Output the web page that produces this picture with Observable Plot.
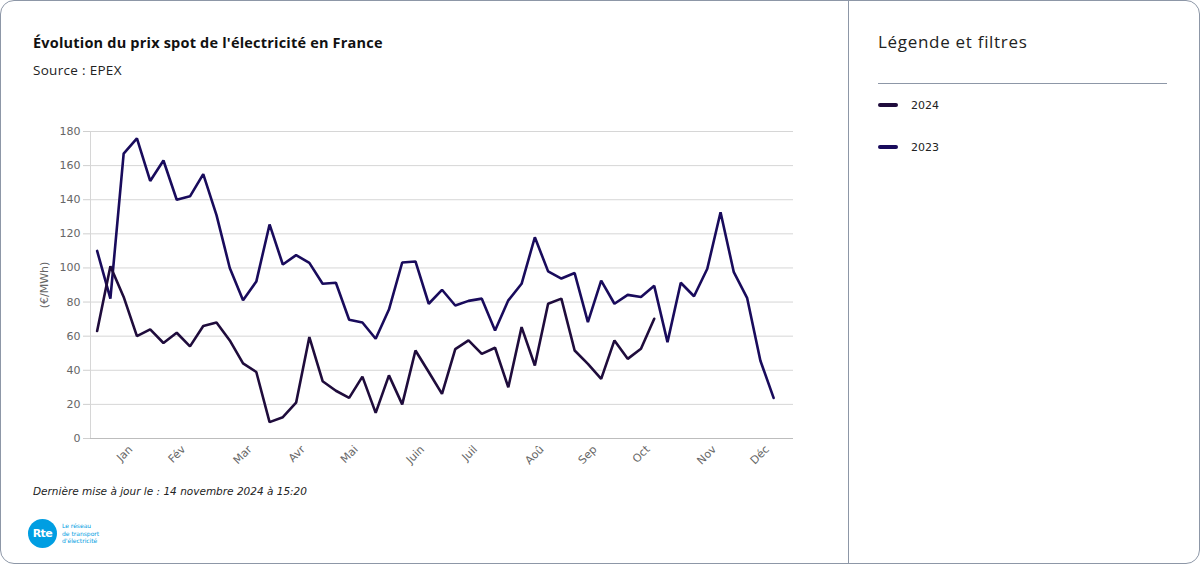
<!DOCTYPE html>
<html lang="fr">
<head>
<meta charset="utf-8">
<script src="https://cdn.jsdelivr.net/npm/d3@7"></script>
<script src="https://cdn.jsdelivr.net/npm/@observablehq/plot@0.6"></script>
<style>
  html, body { margin: 0; padding: 0; background: #fff; }
  body { width: 1200px; height: 564px; position: relative; overflow: hidden; font-family: "Open Sans", "DejaVu Sans", sans-serif; color: #1a1a1a; }
  .card { position: absolute; left: 0; top: 0; width: 1198px; height: 562px; border: 1px solid #8d97a7; border-radius: 14px; }
  .divider { position: absolute; left: 848px; top: 0; width: 1px; height: 564px; background: #8d97a7; }
  .title { position: absolute; left: 33px; top: 33px; font-weight: 700; font-size: 14.5px; letter-spacing: 0.2px; color: #111; white-space: nowrap; }
  .subtitle { position: absolute; left: 33px; top: 61px; font-size: 13.5px; letter-spacing: 0.3px; color: #222; white-space: nowrap; }
  #chart { position: absolute; left: 0; top: 100px; }
  .foot { position: absolute; left: 33px; top: 485px; font-family: "DejaVu Sans", sans-serif; font-style: italic; font-size: 10.5px; color: #222; white-space: nowrap; }
  .logo { position: absolute; left: 28px; top: 519px; }
  .logo .circle { position: absolute; left: 0; top: 0; width: 29px; height: 29px; border-radius: 50%; background: #009ee2; color: #fff; font-family: "DejaVu Sans", sans-serif; font-weight: 700; font-size: 11px; line-height: 29px; text-align: center; letter-spacing: -0.5px; }
  .logo .txt { position: absolute; left: 34px; top: 3px; font-family: "DejaVu Sans", sans-serif; font-size: 6px; line-height: 7.5px; color: #009ee2; white-space: nowrap; }
  .leg-title { position: absolute; left: 878px; top: 30px; font-size: 17px; letter-spacing: 0.7px; color: #222; white-space: nowrap; }
  .leg-sep { position: absolute; left: 878px; top: 83px; width: 289px; height: 1px; background: #8d97a7; }
  .leg-item { position: absolute; left: 878px; font-family: "DejaVu Sans", sans-serif; font-size: 11px; color: #222; white-space: nowrap; }
  .leg-item .sw { display: inline-block; width: 20px; height: 4px; border-radius: 2px; vertical-align: middle; margin-right: 13px; position: relative; top: -1px; }
</style>
</head>
<body>
<div class="card"></div>
<div class="divider"></div>
<div class="title">Évolution du prix spot de l'électricité en France</div>
<div class="subtitle">Source : EPEX</div>
<div id="chart"></div>
<div class="foot">Dernière mise à jour le : 14 novembre 2024 à 15:20</div>
<div class="logo"><div class="circle">Rte</div><div class="txt">Le réseau<br>de transport<br>d'électricité</div></div>
<div class="leg-title">Légende et filtres</div>
<div class="leg-sep"></div>
<div id="legend"></div>
<script>
// Weekly average spot price (€/MWh), week index 0 = first week of the year
const values2024 = [63, 101, 83, 60, 64, 56, 62, 54, 66, 68, 57.5, 44, 39, 9.6, 12.5, 21, 59.5, 33.6, 28, 23.8, 36.3, 15, 37, 20, 51.6, 39, 26.2, 52.4, 57.5, 49.6, 53.2, 30, 65.3, 42.8, 79, 82, 51.6, 43.8, 35, 57.5, 46.7, 52.6, 70.2];
const values2023 = [110, 82, 167, 176, 151, 163, 140, 142, 155, 131, 100, 81, 92, 125.5, 102, 107.5, 103, 90.7, 91.3, 69.6, 68, 58.5, 75.6, 103.2, 103.8, 79, 87.2, 78, 80.7, 82, 63.3, 81, 90.7, 118, 98, 93.8, 97, 68.2, 92.6, 79, 84.2, 83, 89.5, 56.5, 91.3, 83.4, 99.5, 132.7, 97.5, 82.5, 45.7, 23.8];
const seriesNames = ["2024", "2023"];
const seriesColors = ["#1f0c3c", "#190b5c"];
const monthLabels = ["Jan", "Fév", "Mar", "Avr", "Mai", "Juin", "Juil", "Aoû", "Sep", "Oct", "Nov", "Déc"];
const monthTickWeeks = [2, 6, 11, 15, 19, 24, 28, 33, 37, 41, 46, 50];
const yTicks = [0, 20, 40, 60, 80, 100, 120, 140, 160, 180];

const toRows = (vals, name) => vals.map((v, i) => ({week: i, value: v, year: name}));
const rows2024 = toRows(values2024, seriesNames[0]);
const rows2023 = toRows(values2023, seriesNames[1]);

const chart = Plot.plot({
  width: 848,
  height: 380,
  marginLeft: 90,
  marginRight: 55,
  marginTop: 31,
  marginBottom: 42,
  style: {fontFamily: "DejaVu Sans, sans-serif", fontSize: "11px", background: "transparent"},
  x: {domain: [-0.5, 52.5]},
  y: {domain: [0, 180]},
  marks: [
    Plot.gridY(yTicks, {stroke: "#d6d6d6", strokeOpacity: 1}),
    Plot.ruleX([-0.5], {stroke: "#d6d6d6"}),
    Plot.ruleY([0], {stroke: "#bdbdbd"}),
    Plot.axisY(yTicks, {tickSize: 7, tickPadding: 3, stroke: "#cfcfcf", fill: "#666", label: "(€/MWh)", labelAnchor: "center", labelArrow: "none", labelOffset: 50}),
    Plot.axisX(monthTickWeeks, {tickSize: 0, tickPadding: 9, tickRotate: -45, fill: "#666", dx: 7, label: null, tickFormat: d => monthLabels[monthTickWeeks.indexOf(d)]}),
    Plot.line(rows2023, {x: "week", y: "value", stroke: seriesColors[1], strokeWidth: 2.6, strokeLinejoin: "miter"}),
    Plot.line(rows2024, {x: "week", y: "value", stroke: seriesColors[0], strokeWidth: 2.6, strokeLinejoin: "miter"})
  ]
});
document.getElementById("chart").appendChild(chart);

const legend = document.getElementById("legend");
seriesNames.forEach((name, i) => {
  const d = document.createElement("div");
  d.className = "leg-item";
  d.style.top = (99 + i * 42) + "px";
  d.innerHTML = `<span class="sw" style="background:${seriesColors[i]}"></span>${name}`;
  legend.appendChild(d);
});
</script>
</body>
</html>
